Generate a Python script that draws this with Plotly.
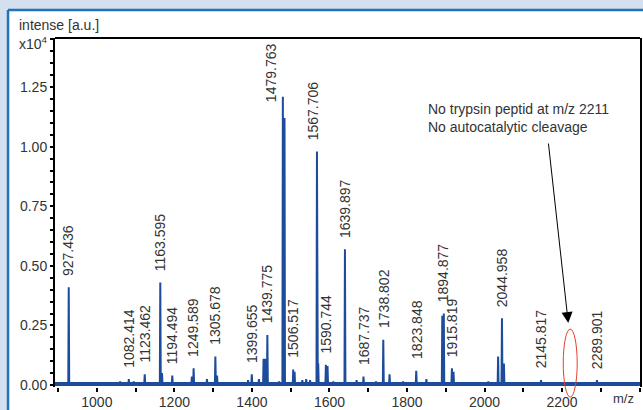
import plotly.graph_objects as go

# ---- data (m/z, intensity in units of 1e4) ----
peak_mz = [927.436, 1045, 1060, 1070, 1082.414, 1095, 1123.462, 1140, 1163.595, 1168,
           1180, 1194.494, 1245, 1249.589, 1284, 1305.678, 1310, 1360, 1390, 1399.655,
           1418, 1430, 1435, 1439.775, 1470, 1479.763, 1484, 1506.517, 1510, 1530,
           1540, 1550, 1567.706, 1571, 1590.744, 1595, 1610, 1639.897, 1670, 1687.737,
           1720, 1738.802, 1755, 1790, 1823.848, 1850, 1891, 1894.877, 1915.819, 1920,
           2010, 2035, 2044.958, 2050, 2145.817, 2289.901, 2393]
peak_int = [0.41, 0.012, 0.015, 0.01, 0.025, 0.015, 0.045, 0.01, 0.43, 0.05,
            0.012, 0.04, 0.035, 0.07, 0.025, 0.12, 0.04, 0.01, 0.02, 0.045,
            0.025, 0.11, 0.11, 0.21, 0.015, 1.21, 1.12, 0.065, 0.055, 0.02,
            0.025, 0.02, 0.98, 0.09, 0.085, 0.08, 0.015, 0.57, 0.02, 0.035,
            0.015, 0.19, 0.045, 0.015, 0.06, 0.025, 0.29, 0.30, 0.07, 0.055,
            0.015, 0.12, 0.28, 0.09, 0.02, 0.02, 0.01]
labels = ["927.436", "1082.414", "1123.462", "1163.595", "1194.494", "1249.589",
          "1305.678", "1399.655", "1439.775", "1479.763", "1506.517", "1567.706",
          "1590.744", "1639.897", "1687.737", "1738.802", "1823.848", "1894.877",
          "1915.819", "2044.958", "2145.817", "2289.901"]
x_ticks = [1000, 1200, 1400, 1600, 1800, 2000, 2200]
y_ticks = [0.00, 0.25, 0.50, 0.75, 1.00, 1.25]
note_lines = ["No trypsin peptid at m/z 2211", "No autocatalytic cleavage"]
missing_mz = 2211

# ---- styling / layout ----
BLUE = "#1d4c9c"
BG = "#d4dff0"
FONT = "Liberation Sans, Arial, sans-serif"
TXT = "#333333"
XR = [892, 2401]
YR = [-0.0084, 1.456]
base = 0.004
half = 1.2

order = sorted(range(len(peak_mz)), key=lambda i: peak_mz[i])
xs, ys = [XR[0]], [base]
for i in order:
    m, h = peak_mz[i], peak_int[i]
    xs += [m - half, m, m + half]
    ys += [base, h, base]
xs.append(XR[1]); ys.append(base)

fig = go.Figure()
fig.add_trace(go.Scatter(x=XR, y=[base, base], mode="lines",
                         line=dict(color=BLUE, width=4), hoverinfo="skip"))
fig.add_trace(go.Scatter(x=xs, y=ys, mode="lines",
                         line=dict(color=BLUE, width=2), hoverinfo="skip"))

# peak labels
overrides = {"1479.763": (-12, 1.18), "1567.706": (-4, 1.02)}
lookup = {round(m, 3): h for m, h in zip(peak_mz, peak_int)}
for lab in labels:
    m = float(lab)
    h = lookup[round(m, 3)]
    xshift, yy = overrides.get(lab, (0, max(h + 0.04, 0.06)))
    fig.add_annotation(x=m, y=yy, xref="x", yref="y", text=lab, textangle=-90,
                       showarrow=False, xanchor="center", yanchor="bottom",
                       xshift=xshift, font=dict(family=FONT, size=14, color=TXT))

# note + arrow
fig.add_annotation(x=0.634, y=0.825, xref="paper", yref="paper",
                   text="<br>".join(note_lines), align="left", showarrow=False,
                   xanchor="left", yanchor="top",
                   font=dict(family=FONT, size=14, color=TXT))
fig.add_annotation(x=missing_mz + 5, y=0.26, xref="x", yref="y", text="",
                   showarrow=True, ax=-20, ay=-181, arrowhead=2, arrowsize=2.2,
                   arrowwidth=1, arrowcolor="black")

# axis texts
fig.add_annotation(x=-0.065, y=1.037, xref="paper", yref="paper", text="intense [a.u.]",
                   showarrow=False, xanchor="left", yanchor="middle",
                   font=dict(family=FONT, size=14, color=TXT))
fig.add_annotation(x=-0.065, y=0.986, xref="paper", yref="paper", text="x10<sup>4</sup>",
                   showarrow=False, xanchor="left", yanchor="middle",
                   font=dict(family=FONT, size=14, color=TXT))
fig.add_annotation(x=0.971, y=-0.034, xref="paper", yref="paper", text="m/z",
                   showarrow=False, xanchor="center", yanchor="middle",
                   font=dict(family=FONT, size=13, color=TXT))

shapes = [
    dict(type="rect", xref="paper", yref="paper", x0=-0.0803, x1=1.03, y0=-0.08, y1=1.08,
         fillcolor="white", line=dict(width=0), layer="below"),
    dict(type="line", xref="paper", yref="paper", x0=-0.0803, x1=-0.0803, y0=-0.08, y1=1.08,
         line=dict(color="#1f73b7", width=2.5)),
    dict(type="line", xref="paper", yref="paper", x0=-0.0803, x1=1.03, y0=1.08, y1=1.08,
         line=dict(color="#1f73b7", width=2.5)),
    dict(type="line", xref="paper", yref="paper", x0=0, x1=1, y0=1, y1=1,
         line=dict(color="black", width=2)),
    dict(type="circle", xref="x", yref="paper", x0=missing_mz - 8, x1=missing_mz + 28,
         y0=-0.029, y1=0.166, line=dict(color="#e5402c", width=1)),
]

fig.update_layout(
    template="none",
    width=643, height=410,
    margin=dict(l=55, r=3, t=38, b=23, autoexpand=False),
    paper_bgcolor=BG, plot_bgcolor="white",
    showlegend=False, shapes=shapes,
    font=dict(family=FONT, size=14, color=TXT),
    xaxis=dict(range=XR, tickvals=x_ticks, ticks="outside", ticklen=4, tickwidth=1.5,
               tickcolor="black", showline=False, showgrid=False, zeroline=False,
               automargin=False, ticklabelstandoff=-2,
               minor=dict(dtick=100, tick0=0, ticks="outside", ticklen=4, tickwidth=1.5,
                          tickcolor="black", showgrid=False),
               tickfont=dict(family=FONT, size=14, color=TXT)),
    yaxis=dict(range=YR, tickvals=y_ticks, tickformat=".2f", ticks="outside", ticklen=3,
               tickwidth=1.5, tickcolor="black", showline=True, linecolor="black",
               linewidth=2, mirror=True, showgrid=False, zeroline=False,
               automargin=False,
               minor=dict(dtick=0.05, tick0=0, ticks="outside", ticklen=3, tickwidth=1.5,
                          tickcolor="black", showgrid=False),
               tickfont=dict(family=FONT, size=14, color=TXT)),
)

fig.write_html("out.html", config={"displayModeBar": False},
               post_script="document.body.style.margin='0';"
                           "document.body.style.overflow='hidden';"
                           "document.body.style.background='" + BG + "';")
